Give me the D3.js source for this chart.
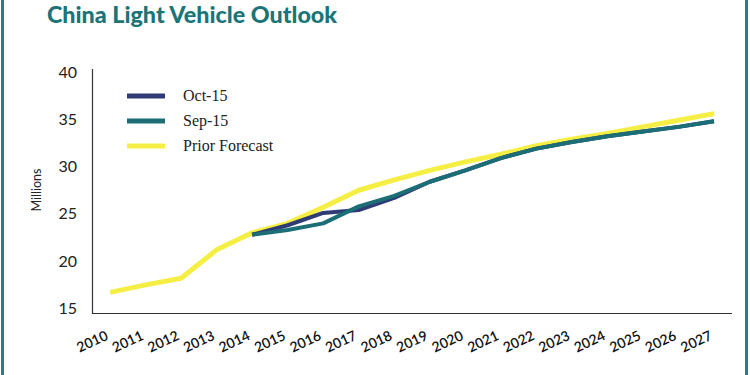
<!DOCTYPE html>
<html>
<head>
<meta charset="utf-8">
<script src="https://cdn.jsdelivr.net/npm/d3@7"></script>
<style>
  html, body { margin: 0; padding: 0; background: #fff; }
  svg { display: block; }
</style>
</head>
<body>
<svg id="chart" width="750" height="375"></svg>
<script>
// ---- data ----
const years = [2010, 2011, 2012, 2013, 2014, 2015, 2016, 2017, 2018, 2019, 2020, 2021, 2022, 2023, 2024, 2025, 2026, 2027];
const priorForecast = [16.7, 17.5, 18.2, 21.2, 23.0, 24.0, 25.7, 27.5, 28.6, 29.6, 30.5, 31.3, 32.2, 32.9, 33.5, 34.2, 34.9, 35.6];
const sep15Years = [2014, 2015, 2016, 2017, 2018, 2019, 2020, 2021, 2022, 2023, 2024, 2025, 2026, 2027];
const sep15 = [22.8, 23.3, 24.0, 25.8, 26.9, 28.4, 29.6, 30.9, 31.9, 32.6, 33.2, 33.7, 34.2, 34.8];
const oct15Years = [2014, 2015, 2016, 2017, 2018, 2019, 2020, 2021, 2022, 2023, 2024, 2025, 2026, 2027];
const oct15 = [22.8, 23.8, 25.1, 25.4, 26.7, 28.4, 29.6, 30.9, 31.9, 32.6, 33.2, 33.7, 34.2, 34.8];
const yTicks = [15, 20, 25, 30, 35, 40];
const seriesNames = ["Oct-15", "Sep-15", "Prior Forecast"];
const seriesColors = ["#2e3b74", "#1b6e76", "#f5ef45"];

// ---- layout ----
const svg = d3.select("#chart");
const x = d3.scaleLinear().domain([2010, 2027]).range([110, 714]);
const y = d3.scaleLinear().domain([15, 40]).range([308.5, 72]);

// frame
svg.append("line").attr("x1", 2.5).attr("x2", 2.5).attr("y1", 0).attr("y2", 375)
  .attr("stroke", "#2b7d84").attr("stroke-width", 3);
svg.append("line").attr("x1", 746.5).attr("x2", 746.5).attr("y1", 0).attr("y2", 375)
  .attr("stroke", "#2b7d84").attr("stroke-width", 3);

// title
svg.append("text").attr("x", 47).attr("y", 23)
  .attr("font-family", "Lato, 'Open Sans', sans-serif").attr("font-weight", "900")
  .attr("font-size", 23).attr("fill", "#1b7478")
  .attr("textLength", 290).attr("lengthAdjust", "spacingAndGlyphs")
  .text("China Light Vehicle Outlook");

// axes lines
svg.append("line").attr("x1", 92.5).attr("x2", 92.5).attr("y1", 69).attr("y2", 313.5)
  .attr("stroke", "#333").attr("stroke-width", 1.2);
svg.append("line").attr("x1", 92).attr("x2", 732).attr("y1", 313.5).attr("y2", 313.5)
  .attr("stroke", "#333").attr("stroke-width", 1.2);

// y tick labels
svg.append("g").selectAll("text").data(yTicks).join("text")
  .attr("x", 77).attr("y", d => y(d) + 5.5)
  .attr("text-anchor", "end")
  .attr("font-family", "Lato, sans-serif").attr("font-size", 16).attr("fill", "#222")
  .text(d => d);

// y axis title
svg.append("text").attr("transform", "translate(41,190) rotate(-90)")
  .attr("text-anchor", "middle")
  .attr("font-family", "Lato, sans-serif").attr("font-size", 12.5).attr("fill", "#222")
  .text("Millions");

// x tick labels
svg.append("g").selectAll("text").data(years).join("text")
  .attr("transform", d => `translate(${x(d) - 1},339) rotate(-25)`)
  .attr("text-anchor", "end")
  .attr("font-family", "Lato, sans-serif").attr("font-size", 14).attr("font-weight", "600").attr("fill", "#111")
  .text(d => d);

// lines
const line = d3.line().x(d => x(d[0])).y(d => y(d[1]));
svg.append("path").datum(years.map((yr, i) => [yr, priorForecast[i]]))
  .attr("d", line).attr("fill", "none").attr("stroke", seriesColors[2])
  .attr("stroke-width", 5).attr("stroke-linejoin", "round");
svg.append("path").datum(oct15Years.map((yr, i) => [yr, oct15[i]]))
  .attr("d", line).attr("fill", "none").attr("stroke", seriesColors[0])
  .attr("stroke-width", 4).attr("stroke-linejoin", "round");
svg.append("path").datum(sep15Years.map((yr, i) => [yr, sep15[i]]))
  .attr("d", line).attr("fill", "none").attr("stroke", seriesColors[1])
  .attr("stroke-width", 4).attr("stroke-linejoin", "round");

// legend
const legend = svg.append("g").selectAll("g").data(seriesNames).join("g")
  .attr("transform", (d, i) => `translate(127,${96 + i * 25})`);
legend.append("line").attr("x1", 0).attr("x2", 38).attr("y1", 0).attr("y2", 0)
  .attr("stroke", (d, i) => seriesColors[i]).attr("stroke-width", 5);
legend.append("text").attr("x", 56).attr("y", 5)
  .attr("font-family", "'Liberation Serif', 'DejaVu Serif', serif").attr("font-size", 16).attr("fill", "#222")
  .text(d => d);
</script>
</body>
</html>
